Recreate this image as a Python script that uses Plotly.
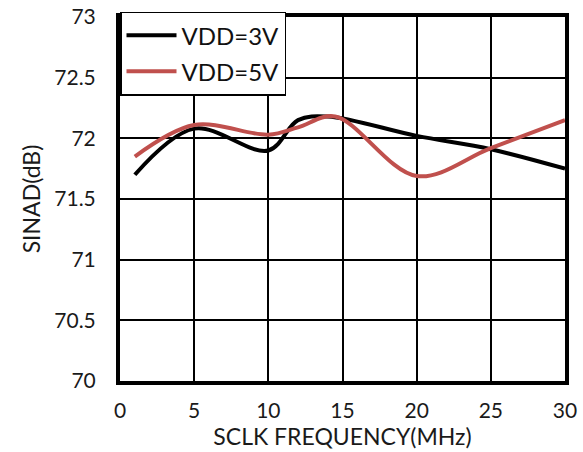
import plotly.graph_objects as go

freq_3v = [1, 5, 10, 12, 14, 20, 25, 30]
sinad_3v = [71.70, 72.08, 71.90, 72.15, 72.18, 72.02, 71.91, 71.75]

freq_5v = [1, 5, 10, 12, 14.5, 20, 25, 30]
sinad_5v = [71.85, 72.11, 72.03, 72.09, 72.18, 71.69, 71.92, 72.15]

x_ticks = [0, 5, 10, 15, 20, 25, 30]
y_ticks = [70, 70.5, 71, 71.5, 72, 72.5, 73]
y_tick_text = ["70", "70.5", "71", "71.5", "72", "72.5", "73"]

FONT = "Lato, 'Open Sans', sans-serif"

fig = go.Figure()
fig.add_trace(go.Scatter(x=freq_3v, y=sinad_3v, mode="lines", name="VDD=3V",
                         legendgroup="a",
                         line=dict(color="#000000", width=4, shape="spline", smoothing=1)))
fig.add_trace(go.Scatter(x=freq_5v, y=sinad_5v, mode="lines", name="VDD=5V",
                         legendgroup="b",
                         line=dict(color="#C0504D", width=4, shape="spline", smoothing=1)))

fig.update_layout(
    width=583, height=452,
    margin=dict(l=120, r=18, t=17, b=71),
    paper_bgcolor="white", plot_bgcolor="white",
    font=dict(family=FONT, size=21, color="#1a1a1a"),
    showlegend=True,
    legend=dict(x=0.0, y=1.015, xanchor="left", yanchor="top",
                bgcolor="white", bordercolor="#000000", borderwidth=1.5,
                font=dict(family=FONT, size=24, color="#111111"),
                tracegroupgap=2, itemwidth=50),
    xaxis=dict(range=[0, 30], tickvals=x_ticks, showgrid=True, gridcolor="#000000", gridwidth=1.5,
               showline=True, linecolor="#000000", linewidth=4, mirror=True,
               ticks="outside", ticklen=8, tickcolor="rgba(0,0,0,0)",
               zeroline=False, automargin=False,
               title=dict(text="SCLK FREQUENCY(MHz)", font=dict(size=23), standoff=2)),
    yaxis=dict(range=[70, 73], tickvals=y_ticks, ticktext=y_tick_text, showgrid=True,
               gridcolor="#000000", gridwidth=1.5,
               showline=True, linecolor="#000000", linewidth=4, mirror=True,
               ticks="outside", ticklen=16, tickcolor="rgba(0,0,0,0)",
               zeroline=False, automargin=False,
               title=dict(text="SINAD(dB)", font=dict(size=23), standoff=8)),
)

fig.write_html("out.html", config={"displayModeBar": False},
               post_script="document.body.style.margin='0';document.body.style.overflow='hidden';")
